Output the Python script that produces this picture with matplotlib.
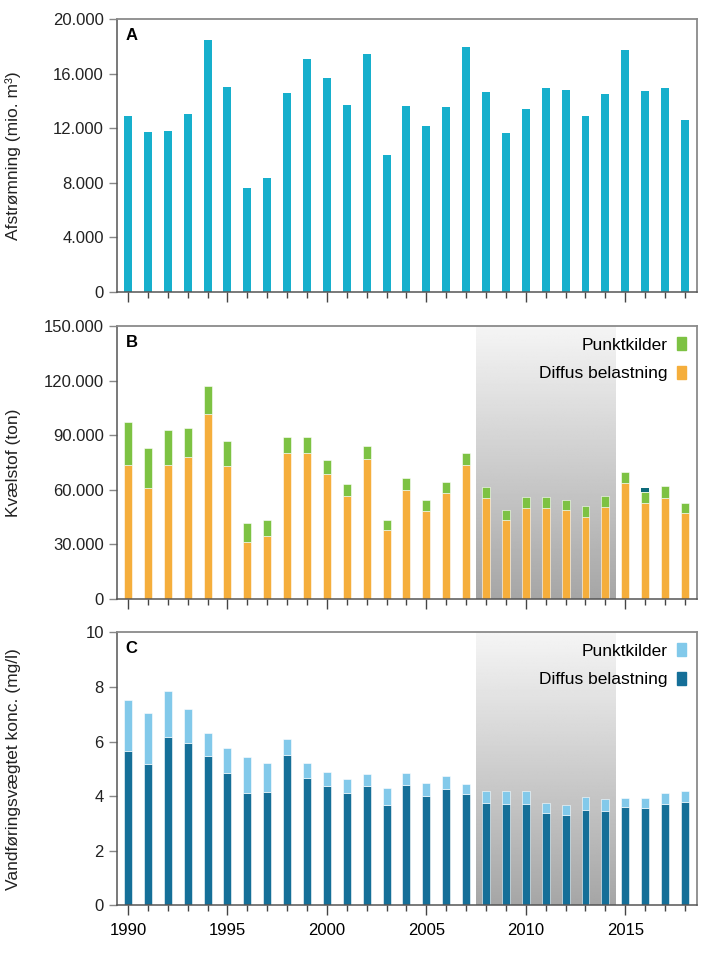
import numpy as np
import matplotlib
matplotlib.use('Agg')
import matplotlib.pyplot as plt
from matplotlib.patches import Patch
from matplotlib.ticker import FuncFormatter, MultipleLocator

plt.rcParams['font.family'] = ['Liberation Sans', 'DejaVu Sans']

years = np.arange(1990, 2019)

# A: afstroemning (mio. m3)
afstroemning = [12900, 11750, 11780, 13070, 18510, 15020, 7660, 8370, 14630, 17120,
                15680, 13730, 17460, 10050, 13660, 12170, 13610, 18000, 14680, 11660,
                13410, 14950, 14830, 12950, 14510, 17730, 14760, 14950, 12590]

# B: kvaelstof (ton)
n_diffus = [73900, 61300, 73700, 78300, 101700, 73300, 31600, 34900, 80500, 80500,
            68800, 56500, 76800, 37700, 60000, 48700, 58400, 73700, 55600, 43200,
            50100, 50100, 49000, 45400, 50700, 64000, 52900, 55800, 47600]
n_punkt = [23400, 21900, 19200, 15700, 15700, 13400, 10300, 8600, 8900, 8800,
           7500, 7000, 7300, 5700, 6400, 5800, 6000, 6400, 5900, 5800,
           6100, 6100, 5700, 5600, 6000, 6100, 6000, 6200, 5100]
n_ekstra = [0] * 26 + [2200, 0, 0]

# C: vandfoeringsvaegtet koncentration (mg/l)
c_diffus = [5.65, 5.18, 6.17, 5.95, 5.46, 4.84, 4.10, 4.13, 5.49, 4.67,
            4.35, 4.10, 4.36, 3.68, 4.39, 3.99, 4.27, 4.06, 3.75, 3.69,
            3.72, 3.36, 3.29, 3.48, 3.45, 3.58, 3.55, 3.72, 3.77]
c_punkt = [1.87, 1.85, 1.69, 1.23, 0.85, 0.92, 1.33, 1.07, 0.62, 0.53,
           0.52, 0.51, 0.46, 0.62, 0.46, 0.50, 0.46, 0.38, 0.42, 0.50,
           0.45, 0.39, 0.39, 0.47, 0.44, 0.36, 0.39, 0.40, 0.42]

periode = (2007.5, 2014.5)

bar_w = 0.4
fig = plt.figure(figsize=(7.02, 9.63), dpi=100)
left, width, height = 0.1667, 0.826, 0.283
axA = fig.add_axes([left, 0.6968, width, height])
axB = fig.add_axes([left, 0.378, width, height])
axC = fig.add_axes([left, 0.0602, width, height])

dk = FuncFormatter(lambda v, p: f'{int(v):,}'.replace(',', '.'))


def style(ax, label, ylab):
    ax.set_xlim(1989.45, 2018.6)
    ax.xaxis.set_major_locator(MultipleLocator(5))
    ax.xaxis.set_minor_locator(MultipleLocator(1))
    ax.tick_params(axis='x', which='major', length=7, width=1, color='#444444',
                   labelsize=12, pad=6)
    ax.tick_params(axis='x', which='minor', length=4, width=1, color='#444444')
    ax.tick_params(axis='y', length=6, width=1, color='#888888', labelsize=12, labelcolor='#222222')
    for s in ['left', 'bottom']:
        ax.spines[s].set_color('#555555')
        ax.spines[s].set_linewidth(1.1)
    for s in ['top', 'right']:
        ax.spines[s].set_color('#8a8a8a')
        ax.spines[s].set_linewidth(1.3)
    ax.text(0.015, 0.97, label, transform=ax.transAxes, fontsize=12,
            fontweight='bold', va='top', ha='left')
    ax.set_ylabel(ylab, fontsize=12.5, color='#222222')
    ax.yaxis.set_label_coords(-0.165, 0.5)


def shade(ax, ymax):
    grad = np.linspace(0.96, 0.65, 256).reshape(-1, 1)
    ax.imshow(grad, cmap='gray', vmin=0, vmax=1, aspect='auto',
              extent=(periode[0], periode[1], 0, ymax), origin='upper', zorder=0)


def legend(ax, c_punkt, c_diffus):
    ax.legend(handles=[Patch(color=c_punkt, label='Punktkilder'),
                       Patch(color=c_diffus, label='Diffus belastning')],
              loc='upper right', frameon=False, markerfirst=False, fontsize=12.5,
              handlelength=0.55, handleheight=0.8, handletextpad=0.55,
              labelspacing=0.75, borderaxespad=0.2, alignment='right')


# A
axA.bar(years, afstroemning, width=bar_w, color='#17afcc', zorder=2)
axA.set_ylim(0, 20000)
axA.set_yticks(np.arange(0, 20001, 4000))
axA.yaxis.set_major_formatter(dk)
style(axA, 'A', 'Afstrømning (mio. m³)')
axA.set_xticklabels([])

# B
shade(axB, 150000)
axB.bar(years, n_diffus, width=bar_w, color='#f5ae3c', edgecolor='white', linewidth=0.4, zorder=2)
axB.bar(years, n_punkt, width=bar_w, bottom=n_diffus, color='#7dc243', edgecolor='white', linewidth=0.4, zorder=2)
axB.bar(years, n_ekstra, width=bar_w, bottom=np.add(n_diffus, n_punkt), color='#0d6a7a', linewidth=0, zorder=2)
axB.set_ylim(0, 150000)
axB.set_yticks(np.arange(0, 150001, 30000))
axB.yaxis.set_major_formatter(dk)
style(axB, 'B', 'Kvælstof (ton)')
axB.set_xticklabels([])
legend(axB, '#7dc243', '#f5ae3c')

# C
shade(axC, 10)
axC.bar(years, c_diffus, width=bar_w, color='#156f98', edgecolor='white', linewidth=0.4, zorder=2)
axC.bar(years, c_punkt, width=bar_w, bottom=c_diffus, color='#82c9ea', edgecolor='white', linewidth=0.4, zorder=2)
axC.set_ylim(0, 10)
axC.set_yticks(np.arange(0, 11, 2))
style(axC, 'C', 'Vandføringsvægtet konc. (mg/l)')
legend(axC, '#82c9ea', '#156f98')

fig.savefig('out.png', dpi=100)
